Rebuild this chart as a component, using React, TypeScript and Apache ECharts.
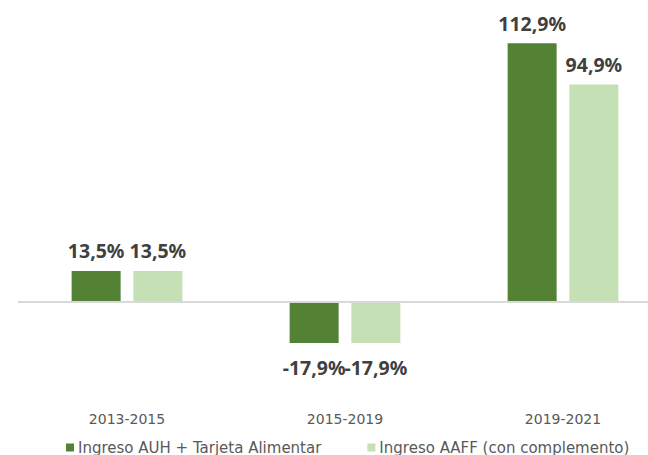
import React, { useEffect, useRef } from "react";
import * as echarts from "echarts";

const categories = ["2013-2015", "2015-2019", "2019-2021"];
const seriesNames = ["Ingreso AUH + Tarjeta Alimentar", "Ingreso AAFF (con complemento)"];
const auhValues = [13.5, -17.9, 112.9];
const aaffValues = [13.5, -17.9, 94.9];
const colors = ["#548235", "#C5E0B4"];

const fmt = (v: number) => v.toFixed(1).replace(".", ",") + "%";

const labelFont = {
  fontFamily: "Noto Sans",
  fontWeight: "bold" as const,
  fontSize: 19.5,
  color: "#404040",
};

function buildData(values: number[]) {
  return values.map((v) => ({
    value: v,
    label: {
      show: true,
      position: v >= 0 ? "top" : "bottom",
      distance: v >= 0 ? 10 : 15,
      formatter: () => fmt(v),
      ...labelFont,
    },
  }));
}

export default function App() {
  const ref = useRef<HTMLDivElement>(null);
  useEffect(() => {
    if (!ref.current) return;
    const chart = echarts.init(ref.current, undefined, { renderer: "svg" });
    chart.setOption({
      animation: false,
      backgroundColor: "#ffffff",
      grid: { left: 18, width: 654, top: 4, height: 389.6, containLabel: false },
      xAxis: {
        type: "category",
        data: categories,
        axisLine: { show: false, onZero: false },
        axisTick: { show: false },
        axisLabel: {
          margin: 18,
          fontFamily: "DejaVu Sans",
          fontSize: 14,
          color: "#595959",
        },
        splitLine: { show: false },
      },
      yAxis: {
        type: "value",
        min: -40,
        max: 130,
        show: false,
        splitLine: { show: false },
      },
      legend: {
        data: seriesNames,
        left: 61,
        top: 435,
        icon: "rect",
        itemWidth: 8,
        itemHeight: 8,
        itemGap: 46,
        textStyle: { fontFamily: "DejaVu Sans", fontSize: 15, color: "#595959", padding: [0, 0, 0, -1] },
      },
      series: [
        {
          name: seriesNames[0],
          type: "bar",
          data: buildData(auhValues),
          barWidth: 49,
          barGap: "26%",
          itemStyle: { color: colors[0] },
          markLine: {
            silent: true,
            symbol: ["none", "none"],
            label: { show: false },
            lineStyle: { color: "#d9d9d9", width: 2, type: "solid" },
            data: [{ yAxis: 0 }],
          },
        },
        {
          name: seriesNames[1],
          type: "bar",
          data: buildData(aaffValues),
          barWidth: 49,
          barGap: "26%",
          itemStyle: { color: colors[1] },
        },
      ],
    });
    return () => chart.dispose();
  }, []);
  return (
    <div
      style={{ position: "fixed", left: 0, top: 0, width: 648, height: 455, overflow: "hidden", background: "#fff" }}
    >
      <div ref={ref} style={{ width: 690, height: 455 }} />
    </div>
  );
}
